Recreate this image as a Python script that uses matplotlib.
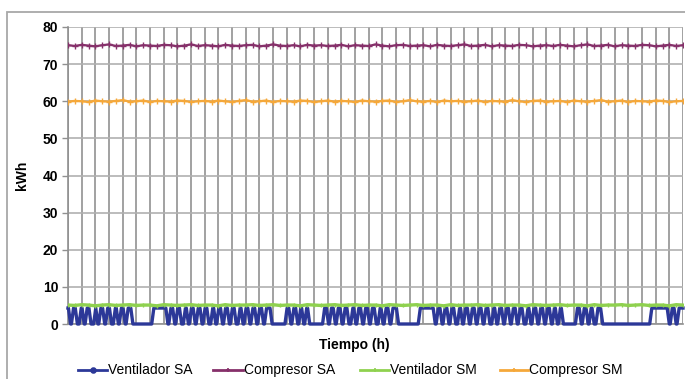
import matplotlib
matplotlib.use("Agg")
import matplotlib.pyplot as plt
from matplotlib.lines import Line2D
from matplotlib.patches import Rectangle

plt.rcParams['font.family'] = ['Liberation Sans', 'DejaVu Sans']

# ---- data ---------------------------------------------------------------
series_names = ["Ventilador SA", "Compresor SA", "Ventilador SM", "Compresor SM"]
hours_total = 720
grid_step_h = 16
y_ticks = [0, 10, 20, 30, 40, 50, 60, 70, 80]

# Ventilador SA: on level and the hour intervals during which it is off
ventilador_sa_on = 4.3
ventilador_sa_off = [
    (3, 4), (11, 13), (19, 20), (27, 30), (35, 36), (43, 44), (51, 53), (59, 60), (67, 68),
    (76, 98),
    (117, 118), (125, 126), (133, 135), (141, 142), (149, 150), (157, 158), (165, 167),
    (173, 174), (181, 182), (189, 190), (197, 199), (205, 206), (213, 214), (221, 222),
    (229, 230),
    (239, 254),
    (261, 262), (269, 270), (276, 277),
    (283, 298),
    (305, 306), (313, 314), (321, 322), (329, 331), (337, 338), (345, 346), (353, 354),
    (361, 363), (369, 370), (377, 378),
    (387, 410),
    (430, 431), (438, 439), (446, 447), (454, 456), (462, 463), (470, 471), (478, 479),
    (486, 487), (494, 496), (502, 503), (510, 511), (518, 519), (526, 527), (534, 536),
    (542, 543), (550, 551), (558, 559), (566, 567), (573, 574),
    (580, 594),
    (601, 602), (609, 610), (616, 618),
    (626, 681),
    (704, 705), (712, 713),
]

# Readings every 8 hours
sample_step_h = 8
compresor_sa = [
    75.1, 74.9, 75.2, 75.0, 74.8, 75.1, 75.3, 74.9, 75.0, 75.2,
    74.8, 75.1, 75.0, 74.9, 75.2, 75.1, 74.8, 75.0, 75.3, 74.9,
    75.1, 75.0, 74.8, 75.2, 75.0, 74.9, 75.1, 75.2, 74.8, 75.0,
    75.3, 75.0, 74.9, 75.1, 74.8, 75.2, 75.0, 75.1, 74.9, 75.0,
    75.2, 74.8, 75.1, 75.0, 74.9, 75.3, 75.0, 74.8, 75.1, 75.2,
    74.9, 75.0, 75.1, 74.8, 75.2, 75.0, 74.9, 75.1, 75.3, 74.9,
    75.0, 75.2, 74.8, 75.1, 75.0, 74.9, 75.2, 75.1, 74.8, 75.0,
    75.1, 74.9, 75.2, 75.0, 74.8, 75.1, 75.3, 74.9, 75.0, 75.2,
    74.8, 75.1, 75.0, 74.9, 75.2, 75.1, 74.8, 75.0, 75.2, 74.9, 75.1,
]
compresor_sm = [
    59.9, 60.1, 60.0, 59.8, 60.2, 60.0, 59.9, 60.1, 60.3, 59.9,
    60.0, 60.2, 59.8, 60.1, 60.0, 59.9, 60.2, 60.1, 59.8, 60.0,
    60.1, 59.9, 60.2, 60.0, 59.8, 60.1, 60.3, 59.9, 60.0, 60.2,
    59.8, 60.1, 60.0, 59.9, 60.2, 60.1, 59.8, 60.0, 60.2, 59.9,
    60.1, 60.0, 59.8, 60.2, 60.0, 59.9, 60.1, 60.2, 59.8, 60.0,
    60.3, 60.0, 59.9, 60.1, 59.8, 60.2, 60.0, 60.1, 59.9, 60.0,
    60.2, 59.8, 60.1, 60.0, 59.9, 60.3, 60.0, 59.8, 60.1, 60.2,
    59.9, 60.0, 60.1, 59.8, 60.2, 60.0, 59.9, 60.1, 60.3, 59.9,
    60.0, 60.2, 59.8, 60.1, 60.0, 59.9, 60.2, 60.1, 59.8, 60.0, 60.1,
]
ventilador_sm = [
    5.1, 5.0, 5.2, 5.1, 4.9, 5.1, 5.2, 5.0, 5.1, 5.2,
    5.0, 5.1, 5.1, 4.9, 5.2, 5.1, 5.0, 5.1, 5.2, 5.0,
    5.1, 5.1, 4.9, 5.2, 5.0, 5.1, 5.1, 5.2, 5.0, 5.1,
    5.2, 5.0, 5.1, 5.1, 4.9, 5.2, 5.1, 5.0, 5.1, 5.2,
    5.0, 5.1, 5.2, 5.0, 5.1, 5.1, 4.9, 5.2, 5.1, 5.0,
    5.1, 5.2, 5.0, 5.1, 5.1, 4.9, 5.2, 5.0, 5.1, 5.1,
    5.2, 5.0, 5.1, 5.2, 5.0, 5.1, 5.1, 4.9, 5.2, 5.1,
    5.0, 5.1, 5.2, 5.0, 5.1, 5.1, 4.9, 5.2, 5.0, 5.1,
    5.1, 5.2, 5.0, 5.1, 5.2, 5.0, 5.1, 5.1, 4.9, 5.2, 5.1,
]

colors = {
    "Ventilador SA": "#2c3898",
    "Compresor SA": "#86306a",
    "Ventilador SM": "#8fd14f",
    "Compresor SM": "#f5a83a",
}

# ---- figure -------------------------------------------------------------
W, H = 685, 379
fig = plt.figure(figsize=(W / 100, H / 100), dpi=100)

def px(x, y):
    return x / W, 1 - y / H

# chart-area border
fig.add_artist(Rectangle(px(7, 400), 2.0, (400 - 12) / H, transform=fig.transFigure,
                         fill=False, edgecolor="#a8a8a8", lw=1.3))

left, bottom = px(68, 324)
_, top = px(68, 27)
ax = fig.add_axes([left, bottom, (683 - 68) / W, top - bottom])

# Ventilador SA polyline: ramps of 2.5 h into and out of each off interval
ramp = 2.5
vsa_t = [0]
vsa_v = [ventilador_sa_on]
for s, e in ventilador_sa_off:
    vsa_t += [s - ramp, s, e, e + ramp]
    vsa_v += [ventilador_sa_on, 0, 0, ventilador_sa_on]
vsa_t.append(hours_total)
vsa_v.append(ventilador_sa_on)

sample_t = [i * sample_step_h for i in range(len(compresor_sa))]

ax.plot(vsa_t, vsa_v, color=colors["Ventilador SA"], lw=2.4, clip_on=False, zorder=3)
ax.plot(sample_t, compresor_sa, color=colors["Compresor SA"], lw=1.6,
        marker="+", ms=4, mew=1.0, zorder=3)
ax.plot(sample_t, ventilador_sm, color=colors["Ventilador SM"], lw=2.4,
        marker="|", ms=3, mew=1.0, zorder=4)
ax.plot(sample_t, compresor_sm, color=colors["Compresor SM"], lw=1.6,
        marker="+", ms=4, mew=1.0, zorder=3)

ax.set_xlim(0, hours_total)
ax.set_ylim(0, 80)
ax.set_yticks(y_ticks)
ax.set_xticks(range(0, hours_total + 1, grid_step_h))
ax.tick_params(axis="x", length=0, labelbottom=False)
ax.tick_params(axis="y", length=4, width=1, color="#909090", labelsize=10, pad=3)
for lab in ax.get_yticklabels():
    lab.set_fontweight("bold")
ax.xaxis.grid(True, color="#9a9a9a", lw=1.3, zorder=0)
ax.yaxis.grid(True, color="#b0b0b0", lw=1.2, zorder=0)
ax.set_axisbelow(True)
for side in ("top", "right"):
    ax.spines[side].set_visible(False)
for side in ("left", "bottom"):
    ax.spines[side].set_color("#909090")
    ax.spines[side].set_linewidth(1.2)

fig.text(*px(22, 175), "kWh", rotation=90, ha="center", va="center",
         fontsize=10, fontweight="bold")
fig.text(*px(354, 345), "Tiempo (h)", ha="center", va="center",
         fontsize=10, fontweight="bold")

# legend row
legend_y = 370
legend_items = [(78, 107, "Ventilador SA", "o"), (213, 243, "Compresor SA", "+"),
                (360, 389, "Ventilador SM", "|"), (500, 528, "Compresor SM", "+")]
for (x0, x1, name, mk) in legend_items:
    xa, ya = px(x0, legend_y)
    xb, _ = px(x1, legend_y)
    fig.add_artist(Line2D([xa, xb], [ya, ya], transform=fig.transFigure,
                          color=colors[name], lw=2))
    fig.add_artist(Line2D([(xa + xb) / 2], [ya], transform=fig.transFigure,
                          color=colors[name], marker=mk, ms=3.5, mew=1.2))
    fig.text(*px(x1 + 1, legend_y), name, ha="left", va="center", fontsize=10)

fig.savefig("out.png", dpi=100)
